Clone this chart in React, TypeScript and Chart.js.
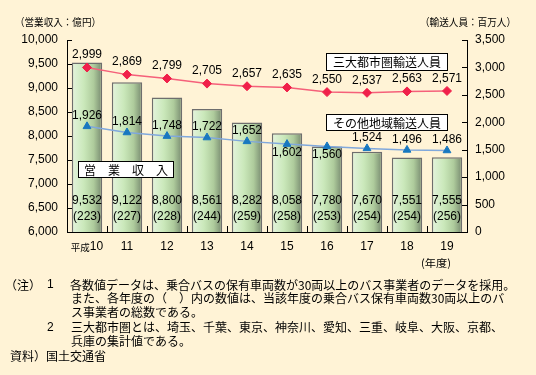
import React, { useEffect, useRef } from 'react';
import { Chart, registerables } from 'chart.js';

Chart.register(...registerables);

const categories = ['平成10', '11', '12', '13', '14', '15', '16', '17', '18', '19'];
const revenue = [9532, 9122, 8800, 8561, 8282, 8058, 7780, 7670, 7551, 7555];
const operators = [223, 227, 228, 244, 259, 258, 253, 254, 254, 256];
const metroPassengers = [2999, 2869, 2799, 2705, 2657, 2635, 2550, 2537, 2563, 2571];
const otherPassengers = [1926, 1814, 1748, 1722, 1652, 1602, 1560, 1524, 1496, 1486];
const otherLabelBelow = [false, false, false, false, false, true, true, false, false, false];

const leftTitle = '（営業収入：億円）';
const rightTitle = '（輸送人員：百万人）';
const xTitle = '(年度)';
const metroName = '三大都市圏輸送人員';
const otherName = 'その他地域輸送人員';
const revenueName = '営　業　収　入';
const noteLines = [
  '各数値データは、乗合バスの保有車両数が30両以上のバス事業者のデータを採用。',
  'また、各年度の（　）内の数値は、当該年度の乗合バス保有車両数30両以上のバ',
  'ス事業者の総数である。',
  '三大都市圏とは、埼玉、千葉、東京、神奈川、愛知、三重、岐阜、大阪、京都、',
  '兵庫の集計値である。',
];
const sourceText = '資料）国土交通省';

const NUM_FONT = "'Liberation Sans', 'Noto Sans CJK JP', sans-serif";
const JP_FONT = "'Noto Sans CJK JP', sans-serif";
const fmt = (v: number) => v.toLocaleString('en-US');

const BAR_FRACTION = 0.76;

const fitText = (ctx: CanvasRenderingContext2D, text: string, x: number, y: number, width: number) => {
  const w = ctx.measureText(text).width;
  ctx.save();
  ctx.translate(x, y);
  ctx.scale(width / w, 1);
  ctx.textAlign = 'left';
  ctx.fillText(text, 0, 0);
  ctx.restore();
};

const makeGradient = (ctx: CanvasRenderingContext2D, left: number, right: number) => {
  const g = ctx.createLinearGradient(left, 0, right, 0);
  g.addColorStop(0, '#e4f4de');
  g.addColorStop(0.4, '#cae8ba');
  g.addColorStop(0.72, '#aecb9c');
  g.addColorStop(1, '#76896f');
  return g;
};

const barShading = {
  id: 'barShading',
  beforeDatasetsDraw(chart: any) {
    const meta = chart.getDatasetMeta(0);
    meta.data.forEach((el: any) => {
      const { x, width } = el.getProps(['x', 'width'], true);
      if (!isFinite(x) || !isFinite(width)) return;
      try {
        el.options.backgroundColor = makeGradient(chart.ctx, x - width / 2, x + width / 2);
      } catch (e) {
        /* ignore */
      }
    });
  },
};

const overlay = {
  id: 'overlay',
  afterDraw(chart: any) {
    const ctx = chart.ctx as CanvasRenderingContext2D;
    const xs = chart.scales.x;
    const yl = chart.scales.y;
    const yr = chart.scales.y2;
    const area = chart.chartArea;
    ctx.save();
    // tick marks
    ctx.strokeStyle = '#000';
    ctx.lineWidth = 1;
    ctx.beginPath();
    yl.ticks.forEach((t: any) => {
      const py = Math.round(yl.getPixelForValue(t.value)) + 0.5;
      ctx.moveTo(area.left, py);
      ctx.lineTo(area.left + 5, py);
    });
    yr.ticks.forEach((t: any) => {
      const py = Math.round(yr.getPixelForValue(t.value)) + 0.5;
      ctx.moveTo(area.right - 5, py);
      ctx.lineTo(area.right, py);
    });
    const step = xs.width / categories.length;
    for (let i = 1; i < categories.length; i++) {
      const px = Math.round(xs.left + i * step) + 0.5;
      ctx.moveTo(px, area.bottom);
      ctx.lineTo(px, area.bottom - 6);
    }
    ctx.stroke();

    // x labels
    ctx.fillStyle = '#000';
    ctx.textBaseline = 'middle';
    categories.forEach((c, i) => {
      const px = xs.getPixelForValue(i);
      const m = c.match(/^(\D*)(\d+)$/);
      const pre = m ? m[1] : '';
      const num = m ? m[2] : c;
      ctx.font = `9.5px ${JP_FONT}`;
      const w1 = pre ? ctx.measureText(pre).width : 0;
      ctx.font = `12px ${NUM_FONT}`;
      const w2 = ctx.measureText(num).width;
      let sx = px - (w1 + w2) / 2;
      ctx.textAlign = 'left';
      if (pre) {
        ctx.font = `9.5px ${JP_FONT}`;
        ctx.fillText(pre, sx, 247);
        sx += w1;
      }
      ctx.font = `12px ${NUM_FONT}`;
      ctx.fillText(num, sx, 247);
    });

    // bar labels
    ctx.textAlign = 'center';
    ctx.font = `12px ${NUM_FONT}`;
    revenue.forEach((v, i) => {
      const px = xs.getPixelForValue(i);
      ctx.fillText(fmt(v), px, area.bottom - 31);
      ctx.fillText(`(${operators[i]})`, px, area.bottom - 15);
    });

    // line labels
    const metaMetro = chart.getDatasetMeta(1);
    metaMetro.data.forEach((pt: any, i: number) => {
      ctx.fillText(fmt(metroPassengers[i]), pt.x, pt.y - 12.5);
    });
    const metaOther = chart.getDatasetMeta(2);
    metaOther.data.forEach((pt: any, i: number) => {
      const dy = otherLabelBelow[i] ? 8.5 : -10.5;
      ctx.fillText(fmt(otherPassengers[i]), pt.x, pt.y + dy);
    });

    // boxes
    const box = (text: string, x: number, y: number, w: number, h: number) => {
      ctx.fillStyle = '#fff';
      ctx.fillRect(x, y, w, h);
      ctx.strokeStyle = '#000';
      ctx.strokeRect(x + 0.5, y + 0.5, w - 1, h - 1);
      ctx.fillStyle = '#000';
      ctx.font = `12px ${JP_FONT}`;
      ctx.textAlign = 'center';
      ctx.fillText(text, x + w / 2, y + h / 2 + 0.5);
    };
    box(metroName, 326, 53, 122, 18);
    box(otherName, 326, 114, 122, 17);
    box(revenueName, 78, 161, 96, 17);

    // titles
    ctx.fillStyle = '#000';
    ctx.font = `10.5px ${JP_FONT}`;
    fitText(ctx, leftTitle, 15, 22, 86);
    fitText(ctx, rightTitle, 420, 22, 96);
    ctx.font = `10.5px ${JP_FONT}`;
    fitText(ctx, xTitle, 421, 263, 30);

    // notes
    ctx.textAlign = 'left';
    ctx.font = `12px ${JP_FONT}`;
    const ys = [285, 298.5, 312, 327.5, 341];
    ctx.fillText('（注）', 5, ys[0]);
    ctx.font = `12px ${NUM_FONT}`;
    ctx.fillText('1', 47, ys[0]);
    ctx.fillText('2', 47, ys[3]);
    ctx.font = `12px ${JP_FONT}`;
    ctx.fillText(noteLines[0], 70, ys[0]);
    ctx.fillText(noteLines[1], 71, ys[1]);
    ctx.fillText(noteLines[2], 71, ys[2]);
    ctx.fillText(noteLines[3], 71, ys[3]);
    ctx.fillText(noteLines[4], 71, ys[4]);
    ctx.fillText(sourceText, 10, 356);
    ctx.restore();
  },
};

const barGradient = (c: any) => {
  const chart = c.chart;
  const xs = chart.scales?.x;
  if (!xs || c.type !== 'data') return '#c8e4b8';
  const cx = xs.getPixelForValue(c.dataIndex);
  const w = (xs.width / categories.length) * BAR_FRACTION;
  if (!isFinite(cx) || !isFinite(w) || w <= 0) return '#c8e4b8';
  return makeGradient(chart.ctx, cx - w / 2, cx + w / 2);
};

export default function App() {
  const ref = useRef<HTMLCanvasElement | null>(null);
  useEffect(() => {
    if (!ref.current) return;
    const chart = new Chart(ref.current, {
      type: 'bar',
      data: {
        labels: categories,
        datasets: [
          {
            type: 'bar',
            data: revenue,
            yAxisID: 'y',
            order: 3,
            barPercentage: BAR_FRACTION,
            categoryPercentage: 1,
            borderColor: '#6e6e6e',
            borderWidth: 1.5,
            backgroundColor: barGradient,
          } as any,
          {
            type: 'line',
            data: metroPassengers,
            yAxisID: 'y2',
            order: 1,
            borderColor: '#f5607a',
            borderWidth: 1.5,
            pointStyle: 'rectRot',
            pointRadius: 4.5,
            pointBackgroundColor: '#f0204a',
            pointBorderColor: '#f0204a',
            pointBorderWidth: 1,
            tension: 0,
          } as any,
          {
            type: 'line',
            data: otherPassengers,
            yAxisID: 'y2',
            order: 2,
            borderColor: '#80a8dc',
            borderWidth: 1.5,
            pointStyle: 'triangle',
            pointRadius: 4.5,
            pointBackgroundColor: '#1878c0',
            pointBorderColor: '#1878c0',
            pointBorderWidth: 1,
            tension: 0,
          } as any,
        ],
      },
      options: {
        animation: false,
        responsive: false,
        maintainAspectRatio: false,
        events: [],
        layout: { padding: { top: 40, left: 0, right: 0, bottom: 0 } },
        plugins: { legend: { display: false }, tooltip: { enabled: false } },
        scales: {
          x: {
            type: 'category',
            position: 'bottom',
            grid: { display: false, drawTicks: false },
            border: { display: true, color: '#000', width: 1 },
            ticks: { display: false },
            afterFit: (s: any) => { s.height = 143; },
          },
          y: {
            type: 'linear',
            position: 'left',
            min: 6000,
            max: 10000,
            grid: { display: false, drawTicks: false },
            border: { display: true, color: '#000', width: 1 },
            ticks: {
              stepSize: 500,
              padding: 9,
              color: '#000',
              font: { family: NUM_FONT, size: 12 },
              callback: (v: any) => fmt(Number(v)),
            },
            afterFit: (s: any) => { s.width = 67; },
          },
          y2: {
            type: 'linear',
            position: 'right',
            min: 0,
            max: 3500,
            grid: { display: false, drawTicks: false },
            border: { display: true, color: '#000', width: 1 },
            ticks: {
              stepSize: 500,
              padding: 8,
              color: '#000',
              font: { family: NUM_FONT, size: 12 },
              callback: (v: any) => fmt(Number(v)),
            },
            afterFit: (s: any) => { s.width = 69; },
          },
        },
      },
      plugins: [barShading, overlay],
    });
    return () => chart.destroy();
  }, []);
  return (
    <div style={{ position: 'absolute', left: 0, top: 0, width: 536, height: 375, background: '#fff3d6' }}>
      <canvas ref={ref} width={536} height={375} style={{ display: 'block' }} />
    </div>
  );
}
